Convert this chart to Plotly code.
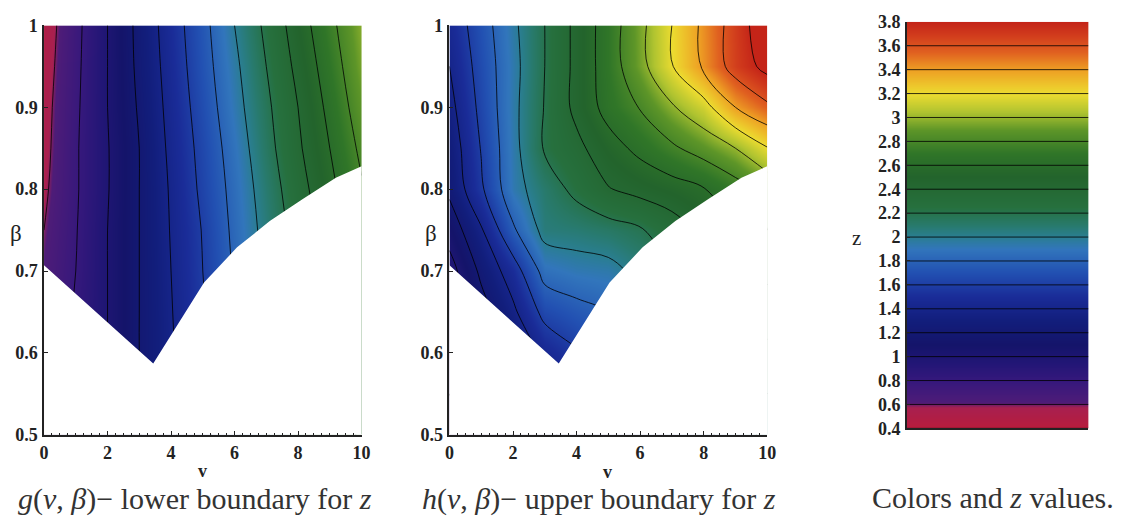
import plotly.graph_objects as go

# ---------------- data ----------------
v_grid = [0, 1, 2, 3, 4, 5, 6, 7, 8, 9, 10]
beta_grid = [0.50, 0.55, 0.60, 0.65, 0.70, 0.75, 0.80, 0.85, 0.90, 0.95, 1.00]

# g(v, beta) : rows follow beta_grid (bottom -> top), columns follow v_grid
g_values = [
    [0.65, 0.86, 1.00, 1.19, 1.37, 1.54, 1.76, 1.98, 2.20, 2.42, 2.64],
    [0.66, 0.85, 1.00, 1.19, 1.37, 1.55, 1.77, 1.99, 2.21, 2.43, 2.65],
    [0.66, 0.84, 1.00, 1.20, 1.38, 1.56, 1.78, 2.00, 2.22, 2.44, 2.66],
    [0.65, 0.82, 1.00, 1.20, 1.39, 1.58, 1.80, 2.02, 2.24, 2.46, 2.68],
    [0.63, 0.80, 1.00, 1.20, 1.40, 1.60, 1.82, 2.04, 2.26, 2.48, 2.70],
    [0.60, 0.79, 1.00, 1.20, 1.41, 1.61, 1.84, 2.06, 2.28, 2.50, 2.72],
    [0.57, 0.78, 0.99, 1.20, 1.42, 1.64, 1.86, 2.09, 2.32, 2.55, 2.78],
    [0.55, 0.78, 0.99, 1.20, 1.44, 1.66, 1.89, 2.13, 2.37, 2.60, 2.84],
    [0.54, 0.77, 1.00, 1.22, 1.46, 1.69, 1.93, 2.16, 2.40, 2.65, 2.90],
    [0.52, 0.76, 1.00, 1.24, 1.48, 1.72, 1.96, 2.20, 2.45, 2.70, 2.95],
    [0.50, 0.75, 1.00, 1.25, 1.50, 1.74, 2.00, 2.24, 2.50, 2.75, 2.98],
]

# h(v, beta)
h_values = [
    [0.75, 0.85, 1.00, 1.15, 1.28, 1.40, 1.50, 1.60, 1.75, 1.90, 2.05],
    [0.80, 0.95, 1.10, 1.30, 1.42, 1.55, 1.65, 1.75, 1.90, 2.05, 2.20],
    [0.85, 1.05, 1.22, 1.45, 1.58, 1.70, 1.80, 1.90, 2.05, 2.20, 2.35],
    [0.90, 1.12, 1.36, 1.66, 1.74, 1.80, 1.95, 2.05, 2.20, 2.35, 2.50],
    [0.92, 1.24, 1.50, 1.87, 1.92, 1.94, 2.05, 2.20, 2.35, 2.50, 2.65],
    [1.08, 1.38, 1.77, 2.06, 2.08, 2.12, 2.18, 2.30, 2.45, 2.60, 2.80],
    [1.24, 1.57, 1.93, 2.10, 2.25, 2.39, 2.46, 2.52, 2.59, 2.72, 2.86],
    [1.28, 1.61, 1.94, 2.22, 2.35, 2.52, 2.65, 2.77, 2.88, 3.00, 3.19],
    [1.34, 1.65, 1.95, 2.21, 2.45, 2.67, 2.81, 2.98, 3.13, 3.40, 3.56],
    [1.40, 1.68, 1.94, 2.20, 2.45, 2.70, 2.94, 3.19, 3.43, 3.68, 3.86],
    [1.46, 1.71, 1.96, 2.20, 2.45, 2.70, 2.95, 3.20, 3.44, 3.69, 3.94],
]

# lower edge of the admissible (v, beta) region
boundary_v = [0.0, 3.44, 4.22, 5.04, 6.08, 7.11, 8.15, 9.19, 10.0]
boundary_beta = [0.707, 0.587, 0.635, 0.686, 0.729, 0.761, 0.788, 0.814, 0.828]

# colour legend
legend_z = [0.4, 0.6, 0.8, 1.0, 1.2, 1.4, 1.6, 1.8, 2.0, 2.2, 2.4, 2.6,
            2.8, 3.0, 3.2, 3.4, 3.6, 3.8]
legend_ticktext = ["0.4", "0.6", "0.8", "1", "1.2", "1.4", "1.6", "1.8", "2",
                   "2.2", "2.4", "2.6", "2.8", "3", "3.2", "3.4", "3.6", "3.8"]

beta_ticks = [0.5, 0.6, 0.7, 0.8, 0.9, 1.0]
beta_ticktext = ["0.5", "0.6", "0.7", "0.8", "0.9", "1"]
v_ticks = [0, 2, 4, 6, 8, 10]

# colour scheme (z value -> colour)
color_z = [0.40, 0.58, 0.62, 0.80, 0.95, 1.10, 1.30, 1.50, 1.70, 1.90, 2.00,
           2.10, 2.25, 2.50, 2.70, 2.90, 3.05, 3.20, 3.40, 3.55, 3.70, 3.80]
color_hex = ["#b81c3c", "#a82050", "#4e1c78", "#36187c", "#221676", "#14146a",
             "#121e7c", "#1a2c98", "#2250b2", "#3276bc", "#2a7e92", "#287a6c",
             "#26703e", "#23642c", "#307628", "#5e9628", "#b0c430", "#ecdc30",
             "#eea024", "#e06020", "#d03a1c", "#c42418"]

ZMIN, ZMAX = 0.4, 3.8
colorscale = [[(z - ZMIN) / (ZMAX - ZMIN), c] for z, c in zip(color_z, color_hex)]

W, H = 1136, 523
def px_x(p):
    return p / W
def px_y(p):
    return 1 - p / H

fig = go.Figure()

contour_common = dict(
    colorscale=colorscale, zmin=ZMIN, zmax=ZMAX, zauto=False, showscale=False,
    contours=dict(start=0.4, end=3.8, size=0.2, coloring="heatmap", showlines=True),
    line=dict(color="black", width=0.8), hoverinfo="skip",
)

fig.add_trace(go.Contour(x=v_grid, y=beta_grid, z=g_values, xaxis="x", yaxis="y",
                         **contour_common))
fig.add_trace(go.Contour(x=v_grid, y=beta_grid, z=h_values, xaxis="x2", yaxis="y2",
                         **contour_common))

# mask everything below the admissible region
mask_x = [-1.0] + boundary_v + [11.0, 11.0, -1.0]
mask_y = [boundary_beta[0]] + boundary_beta + [boundary_beta[-1], 0.4, 0.4]
for xa, ya in (("x", "y"), ("x2", "y2")):
    fig.add_trace(go.Scatter(x=mask_x, y=mask_y, mode="lines", fill="toself",
                             fillcolor="white", line=dict(width=0, color="white"),
                             hoverinfo="skip", showlegend=False, xaxis=xa, yaxis=ya))

# colour legend panel
fig.add_trace(go.Contour(x=[0, 1], y=legend_z, z=[[z, z] for z in legend_z],
                         xaxis="x3", yaxis="y3", **contour_common))

tickfont = dict(family="Liberation Serif", size=18, color="#222", weight="bold")
axis_common = dict(showline=True, linecolor="#222", linewidth=1.5, showgrid=False,
                   zeroline=False, ticks="inside", ticklen=4, tickcolor="#222",
                   tickfont=tickfont)

xdef = dict(range=[0, 10], tickvals=v_ticks, ticklabelstandoff=1,
            minor=dict(dtick=0.25, tick0=0, ticks="inside", ticklen=2.5,
                       tickcolor="#222", showgrid=False), **axis_common)
ydef = dict(range=[0.5, 1.0], tickvals=beta_ticks, ticktext=beta_ticktext,
            ticklabelstandoff=1, **axis_common)

ydom = [px_y(441.7), px_y(16)]
fig.update_layout(
    width=W, height=H, margin=dict(l=0, r=0, t=0, b=0),
    paper_bgcolor="white", plot_bgcolor="white", showlegend=False,
    xaxis=dict(domain=[px_x(39.5), px_x(361)], anchor="y", **xdef),
    yaxis=dict(domain=ydom, anchor="x", **ydef),
    xaxis2=dict(domain=[px_x(450), px_x(771.7)], anchor="y2", **xdef),
    yaxis2=dict(domain=ydom, anchor="x2", **ydef),
    xaxis3=dict(domain=[px_x(913), px_x(1097)], anchor="y3", range=[0, 1],
                showline=True, linecolor="#222", linewidth=1.5, showgrid=False,
                zeroline=False, showticklabels=False, ticks=""),
    yaxis3=dict(domain=[px_y(435), px_y(12.3)], anchor="x3", range=[0.4, 3.8],
                tickvals=legend_z, ticktext=legend_ticktext, ticklabelstandoff=1,
                **axis_common),
)

ann_font = dict(family="Liberation Serif", color="#222")
cap_font = dict(family="Liberation Serif", size=30, color="#333")
annotations = [
    dict(x=px_x(11.5), y=px_y(232), text="β", font=dict(size=23, **ann_font)),
    dict(x=px_x(431.5), y=px_y(232), text="β", font=dict(size=23, **ann_font)),
    dict(x=px_x(200), y=px_y(479), text="<b>v</b>", font=dict(size=18, **ann_font)),
    dict(x=px_x(610), y=px_y(480), text="<b>v</b>", font=dict(size=18, **ann_font)),
    dict(x=px_x(862), y=px_y(237), text="z", font=dict(size=21, **ann_font)),
    dict(x=px_x(192), y=px_y(508),
         text="<i>g</i>(<i>v</i>, <i>β</i>)− lower boundary for <i>z</i>", font=cap_font),
    dict(x=px_x(601), y=px_y(508),
         text="<i>h</i>(<i>v</i>, <i>β</i>)− upper boundary for <i>z</i>", font=cap_font),
    dict(x=px_x(1000), y=px_y(507), text="Colors and <i>z</i> values.", font=cap_font),
]
for a in annotations:
    a.update(xref="paper", yref="paper", showarrow=False, xanchor="center", yanchor="middle")
fig.update_layout(annotations=annotations)

fig.write_html("out.html")
